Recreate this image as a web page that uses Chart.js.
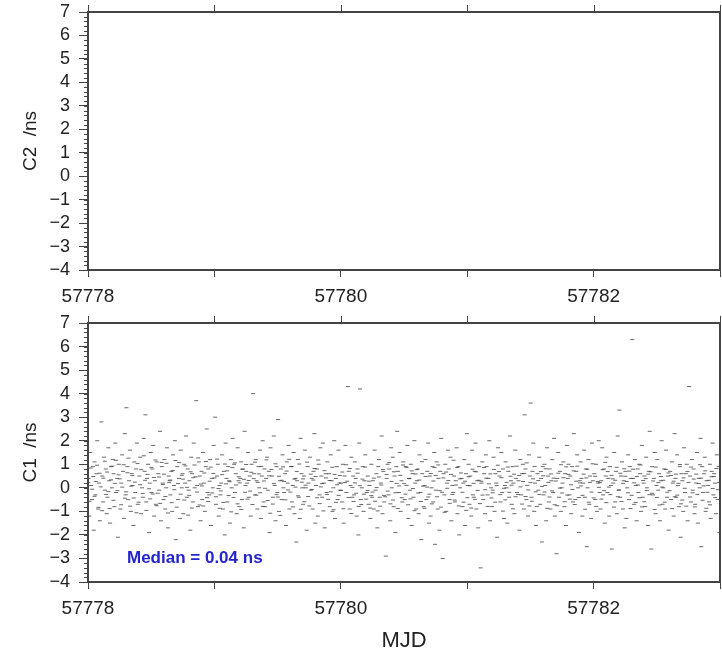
<!DOCTYPE html>
<html>
<head>
<meta charset="utf-8">
<script src="https://cdn.jsdelivr.net/npm/chart.js@4.4.0/dist/chart.umd.min.js"></script>
<style>
  body { margin: 0; background: #fff; }
  #top-panel { position: absolute; left: 0; top: 0; width: 722px; height: 310px; }
  #bottom-panel { position: absolute; left: 0; top: 305px; width: 722px; height: 351px; }
</style>
</head>
<body>
<div id="top-panel"><canvas id="c2-chart"></canvas></div>
<div id="bottom-panel"><canvas id="c1-chart"></canvas></div>
<script>
// MJD range and tick setup
const mjdStart = 57778;
const mjdEnd = 57783;
const nsMin = -4;
const nsMax = 7;
const medianLabel = "Median = 0.04 ns";

// C2 has no points in this window
const c2Points = [];

// C1 samples: [milli-days after 57778, ns] - full spread incl. outliers
const c1Spread = [
  [4,0.4],[11,-1.2],[18,1.5],[25,0.1],[32,-0.5],[39,0.9],[46,-1.8],
  [52,1.1],[59,-0.3],[66,0.6],[73,2.0],[80,-0.9],[87,0.2],[94,-1.4],
  [106,2.8],[113,0.5],[120,-0.6],[127,1.3],[134,-0.1],[141,0.8],[148,-1.1],
  [154,-0.4],[161,1.7],[168,0.3],[175,-1.5],[182,0.9],[189,0.0],[196,1.2],
  [202,0.6],[209,-0.8],[216,1.9],[223,-0.2],[230,0.4],[237,-2.1],[244,1.0],
  [256,-0.9],[263,0.2],[270,1.4],[277,0.7],[284,-1.3],[291,2.3],[298,-0.3],
  [304,3.4],[311,0.9],[318,-0.5],[325,0.3],[332,1.6],[339,-1.0],[346,0.6],
  [352,0.1],[359,-1.6],[366,1.1],[373,-0.2],[380,0.8],[387,1.9],[394,-0.7],
  [406,0.5],[413,1.3],[420,-1.1],[427,0.0],[434,-0.4],[441,2.1],[448,0.7],
  [454,3.1],[461,-0.6],[468,0.4],[475,1.0],[482,-1.9],[489,0.2],[496,1.5],
  [502,-0.2],[509,0.8],[516,1.8],[523,-1.2],[530,0.3],[537,-0.7],[544,1.1],
  [556,0.6],[563,-0.1],[570,2.4],[577,-1.4],[584,0.9],[591,0.2],[598,-0.5],
  [604,1.2],[611,-0.9],[618,0.0],[625,1.7],[632,-1.7],[639,0.5],[646,0.3],
  [652,-0.3],[659,0.7],[666,-1.0],[673,1.4],[680,0.1],[687,2.0],[694,-2.2],
  [706,0.9],[713,-0.5],[720,0.4],[727,-1.3],[734,1.6],[741,0.0],[748,0.6],
  [754,-1.1],[761,1.0],[768,0.2],[775,2.2],[782,-0.4],[789,0.8],[796,-0.1],
  [802,0.3],[809,-1.8],[816,1.3],[823,0.6],[830,-0.6],[837,1.9],[844,0.0],
  [856,3.7],[863,0.1],[870,-0.8],[877,1.1],[884,0.5],[891,-1.4],[898,0.7],
  [904,-0.5],[911,1.5],[918,0.2],[925,-1.0],[932,0.9],[939,2.5],[946,-0.2],
  [952,0.8],[959,-0.3],[966,1.2],[973,-1.6],[980,0.4],[987,0.0],[994,1.8],
  [1006,3.0],[1013,-0.7],[1020,0.5],[1027,1.0],[1034,-1.2],[1041,0.1],[1048,-0.3],
  [1054,0.2],[1061,1.4],[1068,-0.9],[1075,0.7],[1082,-2.0],[1089,1.9],[1096,0.4],
  [1102,-0.6],[1109,0.9],[1116,0.3],[1123,-1.5],[1130,1.2],[1137,0.0],[1144,2.1],
  [1156,1.0],[1163,-0.2],[1170,0.6],[1177,-1.1],[1184,1.7],[1191,0.3],[1198,-0.8],
  [1204,0.4],[1211,1.1],[1218,-0.5],[1225,0.8],[1232,-1.7],[1239,2.4],[1246,0.1],
  [1252,0.7],[1259,0.2],[1266,1.5],[1273,-0.4],[1280,0.5],[1287,-1.2],[1294,1.0],
  [1306,4.0],[1313,0.6],[1320,-0.3],[1327,1.2],[1334,0.3],[1341,-0.9],[1348,0.9],
  [1354,0.0],[1361,1.6],[1368,-1.3],[1375,0.5],[1382,2.0],[1389,-0.6],[1396,0.8],
  [1402,-0.8],[1409,0.4],[1416,1.3],[1423,-0.1],[1430,0.7],[1437,-1.9],[1444,1.7],
  [1456,0.5],[1463,-0.4],[1470,2.2],[1477,0.1],[1484,-1.4],[1491,0.9],[1498,-0.2],
  [1504,2.9],[1511,-1.0],[1518,0.3],[1525,0.8],[1532,-0.5],[1539,1.4],[1546,0.0],
  [1552,-0.2],[1559,0.6],[1566,-1.6],[1573,1.1],[1580,0.2],[1587,1.8],[1594,-0.9],
  [1606,0.9],[1613,-0.6],[1620,0.1],[1627,1.5],[1634,-1.1],[1641,0.4],[1648,-2.3],
  [1654,0.3],[1661,1.2],[1668,-0.4],[1675,-1.3],[1682,2.1],[1689,0.6],[1696,0.0],
  [1702,-0.7],[1709,0.5],[1716,1.6],[1723,0.0],[1730,-1.8],[1737,0.9],[1744,0.2],
  [1756,1.3],[1763,-0.1],[1770,0.4],[1777,-0.9],[1784,0.7],[1791,2.3],[1798,-1.5],
  [1804,0.1],[1811,0.8],[1818,-1.2],[1825,1.0],[1832,-0.3],[1839,1.7],[1846,0.5],
  [1852,-0.4],[1859,1.9],[1866,0.2],[1873,-1.7],[1880,0.6],[1887,-0.2],[1894,1.1],
  [1906,0.6],[1913,-0.8],[1920,1.4],[1927,0.3],[1934,-1.0],[1941,0.0],[1948,2.0],
  [1954,-1.3],[1961,0.4],[1968,0.9],[1975,-0.5],[1982,1.6],[1989,0.2],[1996,-0.1],
  [2002,0.2],[2009,-0.6],[2016,1.0],[2023,-1.5],[2030,0.5],[2037,1.8],[2044,-0.2],
  [2056,4.3],[2063,0.7],[2070,-0.9],[2077,0.1],[2084,1.3],[2091,-0.4],[2098,0.5],
  [2104,-0.3],[2111,1.1],[2118,0.4],[2125,-1.2],[2132,0.8],[2139,-2.0],[2146,1.9],
  [2152,4.2],[2159,-0.5],[2166,0.0],[2173,0.9],[2180,-1.0],[2187,0.3],[2194,1.4],
  [2206,-0.2],[2213,0.5],[2220,-0.7],[2227,0.1],[2234,-1.3],[2241,1.0],[2248,-0.4],
  [2254,0.3],[2261,-0.9],[2268,1.6],[2275,-0.1],[2282,0.6],[2289,-1.7],[2296,0.9],
  [2302,1.2],[2309,-0.4],[2316,0.2],[2323,2.2],[2330,-1.1],[2337,0.7],[2344,-0.6],
  [2356,-2.9],[2363,0.4],[2370,1.0],[2377,-0.3],[2384,0.8],[2391,-1.4],[2398,1.7],
  [2404,0.0],[2411,1.3],[2418,-0.8],[2425,0.5],[2432,-1.9],[2439,0.9],[2446,2.4],
  [2452,0.7],[2459,-0.2],[2466,1.5],[2473,-1.0],[2480,0.3],[2487,-0.6],[2494,1.1],
  [2506,-0.5],[2513,0.9],[2520,0.1],[2527,1.8],[2534,-1.3],[2541,0.4],[2548,-0.1],
  [2554,1.0],[2561,-1.6],[2568,0.6],[2575,-0.4],[2582,2.0],[2589,0.2],[2596,-0.9],
  [2602,0.3],[2609,0.8],[2616,-1.1],[2623,1.4],[2630,-0.2],[2637,-2.2],[2644,0.6],
  [2656,-0.8],[2663,0.1],[2670,1.2],[2677,-0.5],[2684,0.7],[2691,1.9],[2698,-1.5],
  [2704,0.5],[2711,-1.2],[2718,0.0],[2725,0.9],[2732,-0.6],[2739,1.5],[2746,-2.4],
  [2752,-0.1],[2759,1.1],[2766,-0.9],[2773,0.4],[2780,-1.8],[2787,0.7],[2794,2.1],
  [2806,-3.0],[2813,0.6],[2820,-0.3],[2827,1.0],[2834,-1.0],[2841,0.2],[2848,1.6],
  [2854,0.8],[2861,-0.5],[2868,1.3],[2875,-1.4],[2882,0.1],[2889,-0.2],[2896,0.5],
  [2902,-0.6],[2909,0.3],[2916,1.7],[2923,-1.1],[2930,0.9],[2937,-2.0],[2944,0.0],
  [2956,0.4],[2963,-0.8],[2970,0.2],[2977,1.2],[2984,-1.6],[2991,0.6],[2998,2.3],
  [3004,0.1],[3011,1.0],[3018,-0.7],[3025,0.5],[3032,-1.2],[3039,1.6],[3046,-0.3],
  [3052,-0.4],[3059,0.7],[3066,1.9],[3073,-0.9],[3080,0.3],[3087,-1.7],[3094,0.9],
  [3106,-3.4],[3113,0.2],[3120,1.1],[3127,-0.5],[3134,0.6],[3141,-1.1],[3148,1.4],
  [3154,0.9],[3161,-0.3],[3168,0.4],[3175,2.0],[3182,-1.4],[3189,0.0],[3196,-0.8],
  [3202,-0.1],[3209,1.3],[3216,-1.0],[3223,0.6],[3230,0.2],[3237,-2.1],[3244,1.7],
  [3256,0.5],[3263,-0.6],[3270,1.5],[3277,-0.2],[3284,0.8],[3291,-1.3],[3298,0.1],
  [3304,1.1],[3311,0.0],[3318,-1.5],[3325,0.7],[3332,-0.4],[3339,2.2],[3346,0.3],
  [3352,-0.7],[3359,0.9],[3366,0.2],[3373,-1.1],[3380,1.6],[3387,0.4],[3394,-0.2],
  [3406,0.3],[3413,-1.8],[3420,1.2],[3427,-0.3],[3434,0.6],[3441,1.0],[3448,-0.9],
  [3454,3.1],[3461,0.8],[3468,-0.5],[3475,0.1],[3482,-1.2],[3489,1.4],[3496,0.5],
  [3502,3.6],[3509,-0.4],[3516,0.7],[3523,1.9],[3530,-1.0],[3537,0.2],[3544,-1.6],
  [3556,0.6],[3563,-0.1],[3570,1.3],[3577,-0.7],[3584,0.4],[3591,-2.3],[3598,0.9],
  [3604,-0.3],[3611,1.0],[3618,0.1],[3625,-1.4],[3632,1.7],[3639,0.5],[3646,-0.6],
  [3652,0.8],[3659,-0.9],[3666,0.3],[3673,1.2],[3680,-0.2],[3687,2.1],[3694,-1.2],
  [3706,-2.8],[3713,0.4],[3720,1.5],[3727,-0.4],[3734,0.7],[3741,-1.0],[3748,0.0],
  [3754,0.2],[3761,1.1],[3768,-0.8],[3775,0.6],[3782,-1.6],[3789,1.8],[3796,0.4],
  [3802,1.0],[3809,-0.3],[3816,0.5],[3823,-1.1],[3830,0.9],[3837,-0.6],[3844,2.3],
  [3856,-0.5],[3863,0.7],[3870,1.4],[3877,0.0],[3884,-1.9],[3891,0.3],[3898,1.1],
  [3904,0.4],[3911,-1.2],[3918,0.2],[3925,1.6],[3932,-0.4],[3939,0.8],[3946,-2.5],
  [3952,0.0],[3959,1.2],[3966,-0.7],[3973,0.5],[3980,-1.3],[3987,1.9],[3994,0.3],
  [4006,0.6],[4013,-0.5],[4020,1.0],[4027,-1.0],[4034,0.2],[4041,2.0],[4048,-0.2],
  [4054,-0.9],[4061,0.3],[4068,1.7],[4075,-0.3],[4082,0.8],[4089,-1.5],[4096,0.5],
  [4102,1.3],[4109,-0.2],[4116,0.4],[4123,-1.2],[4130,0.9],[4137,0.1],[4144,-2.6],
  [4156,0.2],[4163,1.5],[4170,-0.6],[4177,0.7],[4184,-1.1],[4191,2.2],[4198,-0.1],
  [4204,3.3],[4211,-0.4],[4218,0.5],[4225,1.1],[4232,-0.9],[4239,0.3],[4246,-1.7],
  [4252,0.7],[4259,-1.3],[4266,0.0],[4273,1.4],[4280,-0.5],[4287,0.9],[4294,0.4],
  [4306,6.3],[4313,0.4],[4320,-0.7],[4327,1.2],[4334,0.1],[4341,-1.4],[4348,0.8],
  [4354,-0.2],[4361,1.0],[4368,0.6],[4375,-1.0],[4382,1.8],[4389,-0.4],[4396,0.2],
  [4402,0.5],[4409,-0.8],[4416,1.3],[4423,0.0],[4430,-1.6],[4437,0.7],[4444,2.4],
  [4456,-2.6],[4463,0.9],[4470,-0.3],[4477,0.4],[4484,1.5],[4491,-1.1],[4498,0.1],
  [4504,1.2],[4511,-0.1],[4518,0.6],[4525,-1.4],[4532,0.3],[4539,2.0],[4546,-0.7],
  [4552,0.0],[4559,0.8],[4566,-0.9],[4573,1.6],[4580,-0.4],[4587,0.5],[4594,-1.8],
  [4606,0.7],[4613,-0.5],[4620,1.1],[4627,0.2],[4634,-1.2],[4641,2.3],[4648,0.4],
  [4654,-0.4],[4661,1.4],[4668,0.1],[4675,-0.8],[4682,0.9],[4689,-2.1],[4696,0.6],
  [4702,0.3],[4709,-1.0],[4716,1.7],[4723,-0.2],[4730,0.6],[4737,1.0],[4744,-1.4],
  [4756,4.3],[4763,0.5],[4770,-0.6],[4777,1.2],[4784,-0.1],[4791,0.8],[4798,-1.1],
  [4804,-0.7],[4811,0.2],[4818,1.5],[4825,-1.5],[4832,0.4],[4839,0.0],[4846,2.1],
  [4852,-2.5],[4859,0.9],[4866,-0.2],[4873,0.6],[4880,1.3],[4887,-1.0],[4894,0.3],
  [4906,0.1],[4913,-0.6],[4920,1.0],[4927,-1.3],[4934,0.7],[4941,1.9],[4948,-0.3],
  [4954,0.6],[4961,0.2],[4968,-1.1],[4975,1.4],[4982,-0.5],[4989,0.9],[4996,-1.9]
];

// C1 samples in the dense core of the band
const c1Core = [
  [1,0.23],[12,-0.57],[21,0.84],[33,-0.06],[42,0.48],
  [51,-0.36],[62,0.27],[71,0.96],[83,-0.83],[92,0.62],
  [101,0.04],[112,-0.97],[121,0.41],[133,1.13],[142,-0.28],
  [151,0.67],[162,-0.16],[171,-0.88],[183,0.34],[192,0.92],
  [201,-0.53],[212,0.19],[221,1.17],[233,-0.12],[242,0.55],
  [251,0.38],[262,-0.72],[271,0.03],[283,0.98],[292,-0.44],
  [301,-0.17],[312,0.64],[321,1.26],[333,-0.78],[342,0.07],
  [351,0.52],[362,-0.43],[371,0.24],[383,-1.06],[392,1.03],
  [401,-0.61],[412,0.13],[421,0.77],[433,-0.24],[442,1.36],
  [451,0.32],[462,-0.96],[471,0.57],[483,-0.04],[492,-0.47],
  [501,0.87],[512,-0.26],[521,0.44],[533,1.18],[542,-0.76],
  [551,-0.23],[562,0.46],[571,-0.66],[583,1.08],[592,0.14],
  [601,0.58],[612,-0.37],[621,1.04],[633,-1.07],[642,0.22],
  [651,0.33],[662,-0.63],[671,0.73],[683,-0.08],[692,1.16],
  [701,-0.82],[712,0.18],[721,1.07],[733,-0.27],[742,0.53],
  [751,0.37],[762,-0.52],[771,0.93],[783,0.02],[792,-1.16],
  [801,-0.32],[812,0.68],[821,-0.86],[833,0.43],[842,0.97],
  [851,0.47],[862,-0.18],[871,1.27],[883,-0.73],[892,0.16],
  [901,0.08],[912,-0.77],[921,0.63],[933,1.12],[942,-0.42],
  [951,-0.58],[962,0.28],[971,0.88],[983,-0.22],[992,0.61],
  [1001,0.42],[1012,-0.38],[1021,1.22],[1033,-0.03],[1042,-0.87],
  [1051,-0.13],[1062,0.56],[1071,-0.62],[1083,1.01],[1092,0.17],
  [1101,0.72],[1112,-0.33],[1121,0.26],[1133,-1.02],[1142,0.86],
  [1151,-0.41],[1162,1.06],[1171,0.12],[1183,-0.68],[1192,0.47],
  [1201,0.21],[1212,-0.92],[1221,0.79],[1233,0.36],[1242,-0.19],
  [1251,0.99],[1262,-0.48],[1271,0.31],[1283,-0.14],[1292,0.66],
  [1301,-0.71],[1312,0.39],[1321,1.09],[1333,-0.31],[1342,0.23],
  [1351,0.59],[1362,-0.21],[1371,0.91],[1383,-0.79],[1392,0.29],
  [1401,-0.02],[1412,1.19],[1421,-0.54],[1433,0.51],[1442,-1.08],
  [1451,0.78],[1462,-0.69],[1471,0.18],[1483,1.02],[1492,-0.29],
  [1501,-0.39],[1512,0.49],[1521,-1.17],[1533,0.32],[1542,0.89],
  [1551,0.27],[1562,-0.51],[1571,0.71],[1583,-0.09],[1592,1.21],
  [1601,-0.18],[1612,0.91],[1621,-0.81],[1633,0.37],[1642,0.03],
  [1651,0.69],[1662,-0.34],[1671,1.01],[1683,-0.91],[1692,0.24],
  [1701,0.38],[1712,-0.59],[1721,0.11],[1733,1.09],[1742,-0.37],
  [1751,-0.77],[1762,0.58],[1771,-0.07],[1783,0.33],[1792,0.82],
  [1801,0.48],[1812,-0.42],[1821,1.18],[1833,-0.67],[1842,0.04],
  [1851,0.18],[1862,-0.98],[1871,0.73],[1883,0.42],[1892,-0.28],
  [1901,-0.49],[1912,0.31],[1921,-0.17],[1933,0.87],[1942,-0.93],
  [1951,0.57],[1962,-0.62],[1971,0.13],[1983,-0.32],[1992,0.52],
  [2001,-0.11],[2012,0.67],[2021,-0.89],[2033,0.22],[2042,0.98],
  [2051,0.28],[2062,-0.41],[2071,0.82],[2083,-1.09],[2092,0.02],
  [2101,-0.58],[2112,0.21],[2121,-0.23],[2133,0.62],[2142,-0.79],
  [2151,0.09],[2162,-0.71],[2171,0.37],[2183,-0.27],[2192,0.88],
  [2201,-0.48],[2212,-0.12],[2221,0.28],[2233,-0.86],[2242,-0.33],
  [2251,-0.18],[2262,0.41],[2271,-0.57],[2283,0.01],[2292,-0.98],
  [2301,0.46],[2312,-0.78],[2321,0.12],[2333,0.78],[2342,-0.32],
  [2351,-0.38],[2362,0.57],[2371,-0.14],[2383,1.07],[2392,-0.68],
  [2401,0.27],[2412,-0.52],[2421,0.68],[2433,-0.21],[2442,0.19],
  [2451,-0.88],[2462,0.08],[2471,0.53],[2483,-0.42],[2492,0.97],
  [2501,0.18],[2512,-0.27],[2521,0.87],[2533,-0.72],[2542,0.39],
  [2551,-0.47],[2562,0.72],[2571,-0.03],[2583,-0.97],[2592,0.59],
  [2601,0.77],[2612,-0.22],[2621,0.33],[2633,-0.58],[2642,1.11],
  [2651,0.07],[2662,-0.87],[2671,0.48],[2683,0.03],[2692,-0.39],
  [2701,-0.27],[2712,0.61],[2721,-0.68],[2733,0.29],[2742,0.86],
  [2751,0.52],[2762,-0.38],[2771,0.97],[2783,-0.12],[2792,-0.82],
  [2801,-0.19],[2812,0.42],[2821,-1.04],[2833,0.67],[2842,-0.02],
  [2851,0.31],[2862,-0.66],[2871,0.57],[2883,-0.28],[2892,1.17],
  [2901,-0.52],[2912,0.12],[2921,0.86],[2933,-0.77],[2942,0.38],
  [2951,0.63],[2962,-0.19],[2971,-0.61],[2983,0.28],[2992,-0.96],
  [3001,-0.42],[3012,0.47],[3021,0.09],[3033,-0.86],[3042,0.79],
  [3051,0.19],[3062,-0.49],[3071,0.68],[3083,-0.11],[3092,0.32],
  [3101,-0.67],[3112,0.28],[3121,-0.31],[3133,0.86],[3142,-0.08],
  [3151,0.41],[3162,-0.79],[3171,0.17],[3183,0.59],[3192,-0.43],
  [3201,-0.21],[3212,0.78],[3221,-0.61],[3233,0.09],[3242,0.96],
  [3251,0.69],[3262,-0.29],[3271,0.43],[3283,-0.99],[3292,-0.02],
  [3301,-0.51],[3312,0.23],[3321,0.88],[3333,-0.19],[3342,0.49],
  [3351,0.11],[3362,-0.89],[3371,0.58],[3383,-0.38],[3392,0.92],
  [3401,-0.28],[3412,0.52],[3421,0.04],[3433,-0.69],[3442,0.27],
  [3451,0.61],[3462,-0.37],[3471,1.06],[3483,-0.09],[3492,-0.77],
  [3501,0.22],[3512,-0.57],[3521,0.38],[3533,0.91],[3542,-0.17],
  [3551,-0.79],[3562,0.31],[3571,-0.28],[3583,0.69],[3592,0.06],
  [3601,0.51],[3612,-0.18],[3621,0.81],[3633,-0.87],[3642,0.23],
  [3651,-0.39],[3662,0.59],[3671,-0.13],[3683,0.41],[3692,-0.72],
  [3701,0.29],[3712,-0.76],[3721,0.62],[3733,-0.01],[3742,0.98],
  [3751,-0.22],[3762,0.43],[3771,-0.59],[3783,0.89],[3792,-0.31],
  [3801,0.57],[3812,-0.48],[3821,0.13],[3833,-0.07],[3842,0.72],
  [3851,-0.71],[3862,0.28],[3871,0.92],[3883,-0.41],[3892,0.21],
  [3901,0.08],[3912,-0.32],[3921,0.58],[3933,-0.91],[3942,0.42],
  [3951,0.79],[3962,-0.61],[3971,0.23],[3983,-0.18],[3992,1.02],
  [4001,-0.43],[4012,0.49],[4021,-0.79],[4033,0.27],[4042,0.02],
  [4051,0.22],[4062,-0.48],[4071,0.77],[4083,-0.12],[4092,1.08],
  [4101,-0.63],[4112,0.69],[4121,0.03],[4133,-0.29],[4142,0.53],
  [4151,0.38],[4162,-0.82],[4171,0.32],[4183,0.87],[4192,-0.38],
  [4201,-0.09],[4212,0.62],[4221,-0.58],[4233,0.19],[4242,0.81],
  [4251,0.49],[4262,0.27],[4271,-0.21],[4283,0.71],[4292,-0.88],
  [4301,-0.32],[4312,0.79],[4321,0.21],[4333,-0.62],[4342,0.48],
  [4351,0.12],[4362,-0.42],[4371,0.97],[4383,-0.81],[4392,0.31],
  [4401,-0.59],[4412,0.39],[4421,-0.11],[4433,0.58],[4442,-0.29],
  [4451,0.68],[4462,-0.23],[4471,0.29],[4483,-0.92],[4492,0.88],
  [4501,-0.41],[4512,0.22],[4521,-0.73],[4533,0.48],[4542,0.03],
  [4551,0.32],[4562,-0.61],[4571,0.78],[4583,-0.19],[4592,0.63],
  [4601,-0.12],[4612,0.52],[4621,-0.88],[4633,0.28],[4642,-0.38],
  [4651,0.58],[4662,-0.31],[4671,0.19],[4683,0.99],[4692,-0.68],
  [4701,-0.52],[4712,0.42],[4721,-0.02],[4733,-0.78],[4742,0.69],
  [4751,0.23],[4762,-0.39],[4771,0.88],[4783,-0.21],[4792,0.37],
  [4801,-0.81],[4812,0.58],[4821,-0.28],[4833,0.18],[4842,0.98],
  [4851,0.41],[4862,-0.53],[4871,0.08],[4883,0.72],[4892,-0.87],
  [4901,-0.19],[4912,0.32],[4921,-0.72],[4933,0.47],[4942,-0.03],
  [4951,0.48],[4962,-0.41],[4971,0.82],[4983,-0.08],[4992,0.23]
];

const fontFamily = "'Liberation Sans', Arial, Helvetica, sans-serif";
const inkColor = "#222";
const frameColor = "#444";

// frame, top ticks and minor y ticks (GMT style box)
const framePlugin = {
  id: "frame",
  afterDraw(chart) {
    const { ctx, chartArea: a, scales } = chart;
    ctx.save();
    ctx.strokeStyle = frameColor;
    ctx.lineWidth = 1;
    const y = scales.y;
    for (let i = 0; i <= (y.max - y.min) * 5; i++) {
      const py = Math.round(y.getPixelForValue(y.min + i * 0.2)) + 0.5;
      ctx.beginPath();
      ctx.moveTo(a.left - 4, py);
      ctx.lineTo(a.left + 1, py);
      ctx.stroke();
    }
    scales.x.ticks.forEach((t) => {
      const px = Math.round(scales.x.getPixelForValue(t.value)) + 0.5;
      ctx.beginPath();
      ctx.moveTo(px, a.top);
      ctx.lineTo(px, a.top - 7);
      ctx.stroke();
    });
    ctx.lineWidth = 2;
    ctx.strokeRect(a.left, a.top, a.right - a.left, a.bottom - a.top);
    ctx.restore();
  },
};

const medianPlugin = {
  id: "median",
  afterDraw(chart) {
    if (!chart.options.plugins.median.text) return;
    const { ctx, chartArea: a } = chart;
    ctx.save();
    ctx.font = "bold 17px " + fontFamily;
    ctx.fillStyle = "#2424cc";
    ctx.textBaseline = "alphabetic";
    ctx.fillText(chart.options.plugins.median.text, a.left + 39, a.bottom - 19);
    ctx.restore();
  },
};

function makeOptions(yTitle, xTitle, xAxisHeight, topPad, median) {
  return {
    responsive: true,
    maintainAspectRatio: false,
    animation: false,
    layout: { autoPadding: false, padding: { top: topPad, right: 2, left: 0, bottom: 0 } },
    plugins: {
      legend: { display: false },
      tooltip: { enabled: false },
      median: { text: median },
    },
    scales: {
      x: {
        type: "linear",
        min: mjdStart,
        max: mjdEnd,
        border: { display: false },
        grid: { drawOnChartArea: false, drawTicks: true, tickLength: 7, color: frameColor },
        ticks: {
          stepSize: 1,
          autoSkip: false,
          maxRotation: 0,
          padding: 8,
          color: inkColor,
          font: { family: fontFamily, size: 19 },
          callback: (v) => (v % 2 === 0 ? String(v) : ""),
        },
        title: {
          display: !!xTitle,
          text: xTitle,
          color: inkColor,
          font: { family: fontFamily, size: 22 },
          padding: { top: 0, bottom: 2 },
        },
        afterFit: (s) => {
          s.height = xAxisHeight;
          s.paddingLeft = 0;
          s.paddingRight = 0;
        },
      },
      y: {
        min: nsMin,
        max: nsMax,
        border: { display: false },
        grid: { drawOnChartArea: false, drawTicks: true, tickLength: 9, color: frameColor },
        ticks: {
          stepSize: 1,
          autoSkip: false,
          padding: 9,
          color: inkColor,
          font: { family: fontFamily, size: 18 },
          callback: (v) => String(v).replace("-", "\u2212"),
        },
        title: {
          display: true,
          text: yTitle,
          color: inkColor,
          font: { family: fontFamily, size: 19 },
          padding: { top: 19, bottom: 0 },
        },
        afterFit: (s) => {
          s.width = 88;
          s.paddingTop = 0;
          s.paddingBottom = 0;
        },
      },
    },
  };
}

function toXY(points) {
  return points.map(([md, ns]) => ({ x: mjdStart + md / 1000, y: ns }));
}

const dotStyle = {
  pointStyle: "line",
  pointRadius: 2,
  borderWidth: 1,
  borderColor: "rgba(45,45,45,0.72)",
  backgroundColor: "rgba(45,45,45,0.72)",
};

new Chart(document.getElementById("c2-chart"), {
  type: "scatter",
  data: { datasets: [{ label: "C2", data: toXY(c2Points), ...dotStyle }] },
  options: makeOptions("C2  /ns", "", 40, 12, ""),
  plugins: [framePlugin, medianPlugin],
});

new Chart(document.getElementById("c1-chart"), {
  type: "scatter",
  data: { datasets: [{ label: "C1", data: toXY(c1Spread.concat(c1Core)), ...dotStyle }] },
  options: makeOptions("C1  /ns", "MJD", 74, 18, medianLabel),
  plugins: [framePlugin, medianPlugin],
});
</script>
</body>
</html>
